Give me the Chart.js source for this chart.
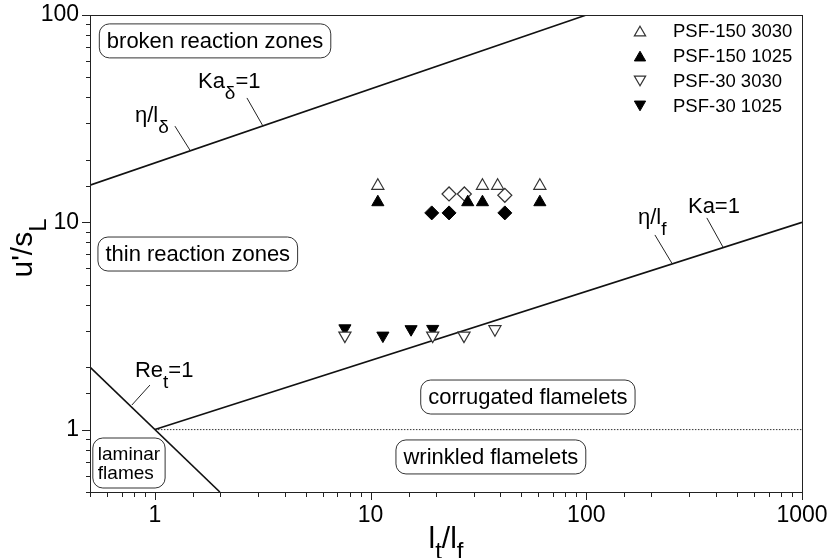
<!DOCTYPE html>
<html>
<head>
<meta charset="utf-8">
<script src="https://cdn.jsdelivr.net/npm/chart.js@4.4.1/dist/chart.umd.min.js"></script>
<style>
  body { margin: 0; background: #fff; }
  canvas { display: block; }
</style>
</head>
<body>
<canvas id="chart" width="832" height="558"></canvas>
<script>
// Regime diagram data (log-log)
var xTickLabels = [1, 10, 100, 1000];
var yTickLabels = [1, 10, 100];

var psf150_3030_x = [10.8, 33.0, 38.8, 60.9];
var psf150_3030_y = [15.0, 15.0, 15.0, 15.0];

var psf150_1025_x = [10.8, 28.2, 33.0, 60.9];
var psf150_1025_y = [12.5, 12.5, 12.5, 12.5];

var psf30_3030_x = [7.6, 19.4, 27.1, 37.7];
var psf30_3030_y = [2.84, 2.84, 2.84, 3.05];

var psf30_1025_x = [7.6, 11.4, 15.4, 19.4];
var psf30_1025_y = [3.08, 2.84, 3.05, 3.06];

// diamonds (not in legend)
var openDiamond_x = [23.1, 27.2, 41.9];
var openDiamond_y = [13.7, 13.7, 13.5];
var fullDiamond_x = [19.2, 23.1, 41.9];
var fullDiamond_y = [11.1, 11.1, 11.1];

// regime borders
var kaDelta_x = [0.5, 100];   // Ka_delta = 1
var kaDelta_y = [15.1, 100];
var ka_x = [1, 1000];         // Ka = 1
var ka_y = [1, 10];
var re_x = [0.5, 2];          // Re_t = 1
var re_y = [2, 0.5];
var flame_x = [1, 1000];      // u'/sL = 1 (dotted)
var flame_y = [1, 1];

var FONT = '"Liberation Sans", Arial, Helvetica, sans-serif';

function pts(xs, ys) {
  return xs.map(function (x, i) { return { x: x, y: ys[i] }; });
}
function isDecade(v, list) {
  return list.some(function (d) { return Math.abs(v - d) < 1e-6 * d; });
}

// boxed region names, anchored at their centre (data coords)
var regions = [
  { text: ['broken reaction zones'], x: 1.9, y: 75, size: 22 },
  { text: ['thin reaction zones'], x: 1.58, y: 7.03, size: 22 },
  { text: ['corrugated flamelets'], x: 53.6, y: 1.436, size: 22 },
  { text: ['wrinkled flamelets'], x: 36.1, y: 0.738, size: 22 },
  { text: ['laminar', 'flames'], x: 0.758, y: 0.69, size: 19, left: true }
];

// line labels: text at (x,y) = left/baseline, leader from p1 to p2
var lineLabels = [
  { parts: [['η/l', 0], ['δ', 1]], x: 0.808, y: 30.5, p1: [1.238, 29.1], p2: [1.453, 22.3] },
  { parts: [['Ka', 0], ['δ', 1], ['=1', 0]], x: 1.583, y: 44.4, p1: [2.67, 39.8], p2: [3.17, 29.1] },
  { parts: [['η/l', 0], ['f', 1]], x: 173.5, y: 9.81, p1: [208, 8.69], p2: [249, 6.36] },
  { parts: [['Ka=1', 0]], x: 296, y: 11.09, p1: [362, 10.5], p2: [430, 7.6] },
  { parts: [['Re', 0], ['t', 1], ['=1', 0]], x: 0.808, y: 1.794, p1: [0.948, 1.64], p2: [0.782, 1.314] }
];

function drawRich(ctx, parts, x, y, size, subSize, drop) {
  var cx = x;
  parts.forEach(function (p) {
    ctx.font = (p[1] ? subSize : size) + 'px ' + FONT;
    ctx.fillText(p[0], cx, y + (p[1] ? drop : 0));
    cx += ctx.measureText(p[0]).width;
  });
  return cx - x;
}
function richWidth(ctx, parts, size, subSize) {
  var w = 0;
  parts.forEach(function (p) {
    ctx.font = (p[1] ? subSize : size) + 'px ' + FONT;
    w += ctx.measureText(p[0]).width;
  });
  return w;
}
function roundBox(ctx, x, y, w, h, r) {
  ctx.beginPath();
  ctx.moveTo(x + r, y);
  ctx.arcTo(x + w, y, x + w, y + h, r);
  ctx.arcTo(x + w, y + h, x, y + h, r);
  ctx.arcTo(x, y + h, x, y, r);
  ctx.arcTo(x, y, x + w, y, r);
  ctx.closePath();
}

var regimePlugin = {
  id: 'regime',
  afterDraw: function (chart) {
    var ctx = chart.ctx, a = chart.chartArea;
    var xs = chart.scales.x, ys = chart.scales.y;
    ctx.save();

    // frame
    ctx.strokeStyle = '#222';
    ctx.lineWidth = 1;
    ctx.strokeRect(a.left + 0.5, a.top + 0.5, a.right - a.left, a.bottom - a.top);

    // tick marks, outside the frame
    ctx.beginPath();
    xs.ticks.forEach(function (t) {
      var px = Math.round(xs.getPixelForValue(t.value)) + 0.5;
      var len = isDecade(t.value, xTickLabels) ? 8 : 5;
      ctx.moveTo(px, a.bottom);
      ctx.lineTo(px, a.bottom + len);
    });
    ys.ticks.forEach(function (t) {
      var py = Math.round(ys.getPixelForValue(t.value)) + 0.5;
      var len = isDecade(t.value, yTickLabels) ? 8 : 4;
      ctx.moveTo(a.left, py);
      ctx.lineTo(a.left - len, py);
    });
    ctx.stroke();

    // region boxes
    ctx.fillStyle = '#000';
    ctx.textBaseline = 'middle';
    regions.forEach(function (r) {
      ctx.font = r.size + 'px ' + FONT;
      var w = 0;
      r.text.forEach(function (s) { w = Math.max(w, ctx.measureText(s).width); });
      var lh = r.size;
      var bw = w + (r.left ? 10 : 15);
      var bh = r.text.length * lh + 12;
      var cx = xs.getPixelForValue(r.x), cy = ys.getPixelForValue(r.y);
      roundBox(ctx, cx - bw / 2, cy - bh / 2, bw, bh, 10);
      ctx.fillStyle = '#fff';
      ctx.fill();
      ctx.strokeStyle = '#333';
      ctx.stroke();
      ctx.fillStyle = '#000';
      ctx.textAlign = r.left ? 'left' : 'center';
      r.text.forEach(function (s, i) {
        var ty = cy - (r.text.length - 1) * lh / 2 + i * lh;
        ctx.fillText(s, r.left ? cx - bw / 2 + 5 : cx, ty + 1);
      });
    });

    // labels with leader lines
    ctx.textAlign = 'left';
    ctx.textBaseline = 'alphabetic';
    ctx.strokeStyle = '#222';
    ctx.lineWidth = 1;
    lineLabels.forEach(function (l) {
      drawRich(ctx, l.parts, xs.getPixelForValue(l.x), ys.getPixelForValue(l.y), 22, 19, 11);
      ctx.beginPath();
      ctx.moveTo(xs.getPixelForValue(l.p1[0]), ys.getPixelForValue(l.p1[1]));
      ctx.lineTo(xs.getPixelForValue(l.p2[0]), ys.getPixelForValue(l.p2[1]));
      ctx.stroke();
    });

    // axis titles
    var xt = [['l', 0], ['t', 1], ['/l', 0], ['f', 1]];
    var wx = richWidth(ctx, xt, 30, 24);
    drawRich(ctx, xt, (a.left + a.right) / 2 - wx / 2, a.bottom + 56, 30, 24, 11);

    var yt = [["u'/s", 0], ['L', 1]];
    var wy = richWidth(ctx, yt, 30, 24);
    ctx.save();
    ctx.translate(32, 248 + wy / 2);
    ctx.rotate(-Math.PI / 2);
    drawRich(ctx, yt, 0, 0, 30, 24, 14);
    ctx.restore();

    // legend (first four series)
    ctx.font = '18.5px ' + FONT;
    ctx.textBaseline = 'middle';
    chart.data.datasets.slice(0, 4).forEach(function (ds, i) {
      var ry = a.top + 16 + i * 25;
      var mx = a.right - 162;
      var off = ds.rotation ? -1.7 : 1.7;
      ctx.fillStyle = ds.backgroundColor;
      ctx.strokeStyle = ds.borderColor;
      ctx.lineWidth = ds.pointBorderWidth;
      Chart.helpers.drawPoint(ctx, {
        pointStyle: ds.pointStyle, rotation: ds.rotation || 0,
        radius: 6.5, borderWidth: ds.pointBorderWidth
      }, mx, ry + off);
      ctx.fillStyle = '#000';
      ctx.fillText(ds.label, a.right - 129, ry + 1);
    });

    ctx.restore();
  }
};

var ctx = document.getElementById('chart').getContext('2d');

var myChart = new Chart(ctx, {
  type: 'scatter',
  data: {
    datasets: [
      { label: 'PSF-150 3030', data: pts(psf150_3030_x, psf150_3030_y), pointStyle: 'triangle',
        pointRadius: 7, backgroundColor: '#fff', borderColor: '#333', pointBorderWidth: 1.2 },
      { label: 'PSF-150 1025', data: pts(psf150_1025_x, psf150_1025_y), pointStyle: 'triangle',
        pointRadius: 7, backgroundColor: '#000', borderColor: '#000', pointBorderWidth: 1 },
      { label: 'PSF-30 3030', data: pts(psf30_3030_x, psf30_3030_y), pointStyle: 'triangle', rotation: 180,
        pointRadius: 7, backgroundColor: '#fff', borderColor: '#333', pointBorderWidth: 1.2 },
      { label: 'PSF-30 1025', data: pts(psf30_1025_x, psf30_1025_y), pointStyle: 'triangle', rotation: 180,
        pointRadius: 7, backgroundColor: '#000', borderColor: '#000', pointBorderWidth: 1 },
      { label: 'open diamonds', data: pts(openDiamond_x, openDiamond_y), pointStyle: 'rectRot',
        pointRadius: 7, backgroundColor: '#fff', borderColor: '#333', pointBorderWidth: 1.2 },
      { label: 'filled diamonds', data: pts(fullDiamond_x, fullDiamond_y), pointStyle: 'rectRot',
        pointRadius: 7, backgroundColor: '#000', borderColor: '#000', pointBorderWidth: 1 },
      { label: 'Ka_delta=1', data: pts(kaDelta_x, kaDelta_y), showLine: true, pointRadius: 0,
        borderColor: '#111', borderWidth: 1.6 },
      { label: 'Ka=1', data: pts(ka_x, ka_y), showLine: true, pointRadius: 0,
        borderColor: '#111', borderWidth: 1.6 },
      { label: 'Re_t=1', data: pts(re_x, re_y), showLine: true, pointRadius: 0,
        borderColor: '#111', borderWidth: 1.6 },
      { label: 'flamelets', data: pts(flame_x, flame_y), showLine: true, pointRadius: 0,
        borderColor: '#333', borderWidth: 1, borderDash: [1.5, 1.5] }
    ]
  },
  options: {
    responsive: false,
    animation: false,
    devicePixelRatio: 1,
    events: [],
    layout: { padding: { top: 15, right: 30, left: 0, bottom: 0 } },
    plugins: {
      legend: { display: false },
      tooltip: { enabled: false }
    },
    scales: {
      x: {
        type: 'logarithmic', min: 0.5, max: 1000,
        grid: { display: false, drawTicks: false },
        border: { display: false },
        ticks: {
          autoSkip: false, maxRotation: 0, padding: 10, color: '#000',
          font: { family: FONT, size: 23 },
          callback: function (v) { return isDecade(v, xTickLabels) ? String(v) : ''; }
        },
        afterFit: function (s) {
          s.height = 66;
          s.paddingLeft = 0;
          s.paddingRight = 0;
        }
      },
      y: {
        type: 'logarithmic', min: 0.5, max: 100,
        grid: { display: false, drawTicks: false },
        border: { display: false },
        ticks: {
          autoSkip: false, padding: 11, color: '#000',
          font: { family: FONT, size: 23 },
          callback: function (v) { return isDecade(v, yTickLabels) ? String(v) : ''; }
        },
        afterFit: function (s) {
          s.width = 90;
          s.paddingTop = 0;
          s.paddingBottom = 0;
        }
      }
    }
  },
  plugins: [regimePlugin]
});
</script>
</body>
</html>
